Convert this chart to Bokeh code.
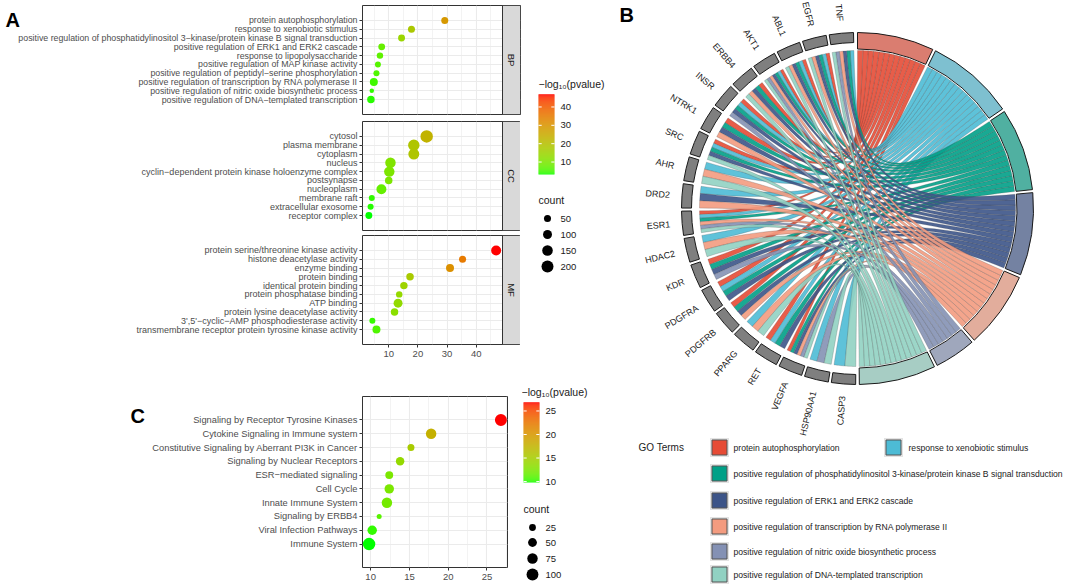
import numpy as np
from bokeh.plotting import figure
from bokeh.models import ColumnDataSource, FactorRange, Range1d, FixedTicker, BoxAnnotation, Label
from bokeh.layouts import row, column
from bokeh.embed import file_html
from bokeh.resources import INLINE
from bokeh.core.properties import value

FONT = "Liberation Sans"
MN = "\u2212"

# ---------------- data: panel A ----------------
bp_terms = ["protein autophosphorylation", "response to xenobiotic stimulus",
            "positive regulation of phosphatidylinositol 3" + MN + "kinase/protein kinase B signal transduction",
            "positive regulation of ERK1 and ERK2 cascade", "response to lipopolysaccharide",
            "positive regulation of MAP kinase activity",
            "positive regulation of peptidyl" + MN + "serine phosphorylation",
            "positive regulation of transcription by RNA polymerase II",
            "positive regulation of nitric oxide biosynthetic process",
            "positive regulation of DNA" + MN + "templated transcription"]
bp_logp = [29.2, 17.8, 14.4, 7.6, 7.0, 6.3, 5.8, 4.9, 4.2, 3.9]
bp_count = [50, 50, 48, 46, 38, 29, 30, 73, 4, 61]

cc_terms = ["cytosol", "plasma membrane", "cytoplasm", "nucleus",
            "cyclin" + MN + "dependent protein kinase holoenzyme complex", "postsynapse",
            "nucleoplasm", "membrane raft", "extracellular exosome", "receptor complex"]
cc_logp = [23.0, 18.6, 18.6, 10.6, 10.2, 10.0, 7.5, 4.2, 3.8, 3.2]
cc_count = [220, 182, 164, 147, 145, 61, 131, 29, 30, 48]

mf_terms = ["protein serine/threonine kinase activity", "histone deacetylase activity",
            "enzyme binding", "protein binding", "identical protein binding",
            "protein phosphatase binding", "ATP binding", "protein lysine deacetylase activity",
            "3',5'" + MN + "cyclic" + MN + "AMP phosphodiesterase activity",
            "transmembrane receptor protein tyrosine kinase activity"]
mf_logp = [46.8, 35.3, 31.0, 17.3, 15.2, 13.6, 13.2, 12.0, 4.4, 5.8]
mf_count = [131, 50, 73, 61, 60, 38, 100, 60, 29, 73]

a_ticks = [10, 20, 30, 40]
a_count_breaks = [50, 100, 150, 200]

# ---------------- data: panel C ----------------
c_terms = ["Signaling by Receptor Tyrosine Kinases", "Cytokine Signaling in Immune system",
           "Constitutive Signaling by Aberrant PI3K in Cancer", "Signaling by Nuclear Receptors",
           "ESR" + MN + "mediated signaling", "Cell Cycle", "Innate Immune System",
           "Signaling by ERBB4", "Viral Infection Pathways", "Immune System"]
c_logp = [26.8, 17.8, 15.2, 13.8, 12.4, 12.4, 12.1, 11.1, 10.2, 9.8]
c_count = [102, 75, 27, 45, 38, 59, 75, 8, 59, 112]
c_ticks = [10, 15, 20, 25]
c_count_breaks = [25, 50, 75, 100]

# ---------------- data: panel B (chord) ----------------
go_terms = ["protein autophosphorylation", "response to xenobiotic stimulus",
            "positive regulation of phosphatidylinositol 3-kinase/protein kinase B signal transduction",
            "positive regulation of ERK1 and ERK2 cascade",
            "positive regulation of transcription by RNA polymerase II",
            "positive regulation of nitric oxide biosynthetic process",
            "positive regulation of DNA-templated transcription"]
go_colors = ["#E64B35", "#4DBBD5", "#00A087", "#3C5488", "#F39B7F", "#8491B4", "#91D1C2"]
genes = ["CASP3", "HSP90AA1", "VEGFA", "RET", "PPARG", "PDGFRB", "PDGFRA", "KDR", "HDAC2",
         "ESR1", "DRD2", "AHR", "SRC", "NTRK1", "INSR", "ERBB4", "AKT1", "ABL1", "EGFR", "TNF"]
gene_term = [
    [0, 1, 0, 0, 0, 0, 1],  # CASP3
    [0, 1, 0, 0, 0, 1, 1],  # HSP90AA1
    [1, 0, 1, 1, 1, 1, 1],  # VEGFA
    [1, 1, 1, 1, 0, 0, 0],  # RET
    [0, 1, 0, 0, 1, 0, 1],  # PPARG
    [1, 0, 1, 1, 1, 0, 0],  # PDGFRB
    [1, 1, 1, 1, 0, 0, 0],  # PDGFRA
    [1, 0, 1, 1, 0, 1, 0],  # KDR
    [0, 1, 0, 0, 1, 0, 1],  # HDAC2
    [1, 1, 1, 0, 1, 1, 1],  # ESR1
    [0, 1, 0, 1, 1, 0, 0],  # DRD2
    [0, 1, 0, 0, 1, 0, 1],  # AHR
    [1, 1, 1, 1, 0, 0, 1],  # SRC
    [1, 0, 1, 1, 1, 0, 0],  # NTRK1
    [1, 1, 1, 1, 0, 1, 0],  # INSR
    [1, 0, 1, 1, 1, 0, 1],  # ERBB4
    [1, 1, 1, 1, 1, 1, 1],  # AKT1
    [1, 1, 1, 1, 1, 0, 1],  # ABL1
    [1, 1, 1, 1, 1, 0, 1],  # EGFR
    [0, 1, 1, 1, 1, 1, 1],  # TNF
]

# ---------------- colour scale (Lab interpolation green -> red) ----------------
_MX = np.array([[0.4124564, 0.3575761, 0.1804375],
                [0.2126729, 0.7151522, 0.0721750],
                [0.0193339, 0.1191920, 0.9503041]])
_WH = np.array([0.95047, 1.0, 1.08883])


def _lin(c):
    c = np.asarray(c, float) / 255.0
    return np.where(c <= 0.04045, c / 12.92, ((c + 0.055) / 1.055) ** 2.4)


def _gam(c):
    c = np.clip(c, 0, 1)
    return np.where(c <= 0.0031308, 12.92 * c, 1.055 * c ** (1 / 2.4) - 0.055)


def rgb2lab(rgb):
    xyz = _MX @ _lin(rgb) / _WH
    d = 6 / 29
    f = np.where(xyz > d ** 3, np.cbrt(xyz), xyz / (3 * d * d) + 4 / 29)
    return np.array([116 * f[1] - 16, 500 * (f[0] - f[1]), 200 * (f[1] - f[2])])


def lab2hex(lab):
    L, a, b = lab
    fy = (L + 16) / 116
    f = np.array([fy + a / 500, fy, fy - b / 200])
    d = 6 / 29
    xyz = np.where(f > d, f ** 3, 3 * d * d * (f - 4 / 29)) * _WH
    rgb = _gam(np.linalg.solve(_MX, xyz))
    r, g, bb = np.round(rgb * 255).astype(int)
    return "#%02x%02x%02x" % (r, g, bb)


LAB_LO = rgb2lab([0, 255, 0])
LAB_HI = rgb2lab([255, 0, 0])


def grad_color(v, vmin, vmax):
    t = min(max((v - vmin) / (vmax - vmin), 0.0), 1.0)
    return lab2hex(LAB_LO + t * (LAB_HI - LAB_LO))


def dot_size(c, cmin, cmax, dmin, dmax):
    t = (c - cmin) / (cmax - cmin)
    return float(np.sqrt(dmin ** 2 + t * (dmax ** 2 - dmin ** 2)))


def expand(vals, mult=0.05):
    lo, hi = min(vals), max(vals)
    pad = (hi - lo) * mult
    return lo - pad, hi + pad


A_ALL = bp_logp + cc_logp + mf_logp
A_CNT = bp_count + cc_count + mf_count
A_VMIN, A_VMAX = min(A_ALL), max(A_ALL)
A_CMIN, A_CMAX = min(A_CNT), max(A_CNT)
A_DMIN, A_DMAX = 4.5, 12.5
C_VMIN, C_VMAX = min(c_logp), max(c_logp)
C_CMIN, C_CMAX = min(c_count), max(c_count)
C_DMIN, C_DMAX = 5.0, 12.5

# ---------------- geometry of the left column (page px) ----------------
A_LEFT = 360
A_DATA_PX = 140
STRIP_PX = 18
A_FH = 109
C_LEFT, C_FW, C_FH = 362, 145, 171
COL_W = A_LEFT + A_DATA_PX + STRIP_PX + 2

A_XR = expand(A_ALL)
strip_units = STRIP_PX * (A_XR[1] - A_XR[0]) / A_DATA_PX
A_SCALE = A_DATA_PX / (A_XR[1] - A_XR[0])
C_XR = expand(c_logp)
C_SCALE = C_FW / (C_XR[1] - C_XR[0])


def style_axes(p, ysize):
    p.background_fill_color = "white"
    p.border_fill_color = "white"
    p.outline_line_color = "#333333"
    p.outline_line_width = 1
    p.ygrid.grid_line_color = "#EBEBEB"
    p.ygrid.grid_line_width = 1.1
    p.xgrid.grid_line_color = "#EBEBEB"
    p.xgrid.grid_line_width = 1.1
    p.xgrid.minor_grid_line_color = "#EBEBEB"
    p.xgrid.minor_grid_line_width = 0.6
    for ax in list(p.yaxis) + list(p.xaxis):
        ax.axis_line_color = None
        ax.major_tick_line_color = "#333333"
        ax.major_tick_out = 3
        ax.major_tick_in = 0
        ax.minor_tick_line_color = None
        ax.major_label_text_font = FONT
        ax.major_label_text_color = "#4D4D4D"
        ax.major_label_standoff = 2
    for ax in p.yaxis:
        ax.major_label_text_font_size = ysize
    for ax in p.xaxis:
        ax.major_label_text_font_size = "9.5px"


def facet(terms, logp, count, strip, top, bottom, with_axis, ysize):
    p = figure(frame_width=A_DATA_PX + STRIP_PX, frame_height=A_FH,
               x_range=Range1d(A_XR[0], A_XR[1] + strip_units),
               y_range=FactorRange(factors=list(reversed(terms)), range_padding=1.2,
                                   range_padding_units="absolute"),
               x_axis_location="below" if with_axis else None,
               toolbar_location=None, output_backend="svg",
               min_border_left=A_LEFT, min_border_right=COL_W - A_LEFT - A_DATA_PX - STRIP_PX,
               min_border_top=top, min_border_bottom=bottom)
    ticker = FixedTicker(ticks=a_ticks, minor_ticks=[5, 15, 25, 35, 45])
    p.xgrid.ticker = ticker
    if with_axis:
        p.xaxis.ticker = ticker
    style_axes(p, ysize)
    src = ColumnDataSource(dict(
        x=logp, y=terms,
        size=[dot_size(c, A_CMIN, A_CMAX, A_DMIN, A_DMAX) for c in count],
        color=[grad_color(v, A_VMIN, A_VMAX) for v in logp]))
    p.scatter("x", "y", size="size", fill_color="color", line_color=None, source=src)
    p.add_layout(BoxAnnotation(left=A_XR[1], fill_color="#D9D9D9", fill_alpha=1.0,
                               line_color="#333333", line_width=1, line_alpha=1.0))
    p.add_layout(Label(x=A_XR[1] + strip_units / 2, y=A_FH / 2, y_units="screen", text=strip,
                       angle=-np.pi / 2, text_align="center", text_baseline="middle",
                       text_font=FONT, text_font_size="9.5px", text_color="#1A1A1A"))
    return p


bp = facet(bp_terms, bp_logp, bp_count, "BP", 5, 3, False, "8.8px")
cc = facet(cc_terms, cc_logp, cc_count, "CC", 4, 3, False, "9px")
mf = facet(mf_terms, mf_logp, mf_count, "MF", 2, 20, True, "9px")
bp.add_layout(Label(x=A_XR[0] + (3 - A_LEFT) / A_SCALE, y=len(bp_terms) + 0.6 + 2 * 11.2 / A_FH,
                    text="A", text_font=FONT, text_font_size="20px", text_font_style="bold",
                    text_baseline="top", text_align="left", text_color="black"), "left")

# ---------------- panel C ----------------
cfig = figure(frame_width=C_FW, frame_height=C_FH, x_range=Range1d(*C_XR),
              y_range=FactorRange(factors=list(reversed(c_terms)), range_padding=1.2,
                                  range_padding_units="absolute"),
              toolbar_location=None, output_backend="svg",
              min_border_left=C_LEFT, min_border_right=COL_W - C_LEFT - C_FW,
              min_border_top=32, min_border_bottom=17)
cticker = FixedTicker(ticks=c_ticks, minor_ticks=[7.5, 12.5, 17.5, 22.5, 27.5])
cfig.xaxis.ticker = cticker
cfig.xgrid.ticker = cticker
style_axes(cfig, "9.3px")
csrc = ColumnDataSource(dict(
    x=c_logp, y=c_terms,
    size=[dot_size(c, C_CMIN, C_CMAX, C_DMIN, C_DMAX) for c in c_count],
    color=[grad_color(v, C_VMIN, C_VMAX) for v in c_logp]))
cfig.scatter("x", "y", size="size", fill_color="color", line_color=None, source=csrc)
cfig.add_layout(Label(x=C_XR[0] + (130 - C_LEFT) / C_SCALE, y=len(c_terms) + 0.6,
                      text="C", text_font=FONT, text_font_size="20px", text_font_style="bold",
                      text_baseline="top", text_align="left", text_color="black"), "left")

TOTAL_H = 584

# ---------------- legend column (page x 520..636) ----------------
LX0, LW = COL_W, 116
leg = figure(width=LW, height=TOTAL_H, x_range=Range1d(0, LW), y_range=Range1d(0, TOTAL_H),
             toolbar_location=None, output_backend="svg", min_border=0,
             x_axis_location=None, y_axis_location=None, outline_line_color=None)
leg.grid.visible = False
leg.background_fill_color = "white"
leg.border_fill_color = "white"


def LY(page_y):
    return TOTAL_H - page_y


def txt(fig, x, y, s, size, align="left", base="middle", style="normal", color="#1A1A1A"):
    fig.text(x=[x], y=[y], text=[s], text_font=value(FONT), text_font_size=size,
             text_align=align, text_baseline=base, text_font_style=style, text_color=color)


def colorbar(fig, vmin, vmax, x0, x1, ptop, pbot, ticks, lab_x, title_xy):
    n = 80
    edges = np.linspace(vmin, vmax, n + 1)
    yb, yt = LY(pbot), LY(ptop)
    ys = yb + (edges - vmin) / (vmax - vmin) * (yt - yb)
    mids = (edges[:-1] + edges[1:]) / 2
    fig.quad(left=x0, right=x1, bottom=ys[:-1], top=ys[1:] + 0.3,
             fill_color=[grad_color(v, vmin, vmax) for v in mids], line_color=None)
    ty = [yb + (t - vmin) / (vmax - vmin) * (yt - yb) for t in ticks]
    w = (x1 - x0) / 5
    fig.segment(x0=[x0] * len(ty), y0=ty, x1=[x0 + w] * len(ty), y1=ty, line_color="white", line_width=1)
    fig.segment(x0=[x1 - w] * len(ty), y0=ty, x1=[x1] * len(ty), y1=ty, line_color="white", line_width=1)
    fig.text(x=[lab_x] * len(ty), y=ty, text=[str(t) for t in ticks], text_font=value(FONT),
             text_font_size="9.5px", text_align="left", text_baseline="middle", text_color="#1A1A1A")
    txt(fig, title_xy[0], title_xy[1], MN + "log\u2081\u2080(pvalue)", "10.5px")


def sizelegend(fig, breaks, cmin, cmax, dmin, dmax, cx, pys, lab_x, title_xy):
    ys = [LY(v) for v in pys]
    fig.scatter(x=[cx] * len(breaks), y=ys, size=[dot_size(b, cmin, cmax, dmin, dmax) for b in breaks],
                fill_color="black", line_color=None)
    fig.text(x=[lab_x] * len(breaks), y=ys, text=[str(b) for b in breaks], text_font=value(FONT),
             text_font_size="9.5px", text_align="left", text_baseline="middle", text_color="#1A1A1A")
    txt(fig, title_xy[0], title_xy[1], "count", "10.5px")


colorbar(leg, A_VMIN, A_VMAX, 537 - LX0, 553 - LX0, 94, 174, a_ticks, 559 - LX0, (537 - LX0, LY(83)))
sizelegend(leg, a_count_breaks, A_CMIN, A_CMAX, A_DMIN, A_DMAX, 546 - LX0, [218, 234, 250, 266],
           559 - LX0, (537 - LX0, LY(199)))
colorbar(leg, C_VMIN, C_VMAX, 522 - LX0, 538 - LX0, 402, 482, c_ticks, 544 - LX0, (520 - LX0, LY(391)))
sizelegend(leg, c_count_breaks, C_CMIN, C_CMAX, C_DMIN, C_DMAX, 531 - LX0, [527, 542, 558, 574],
           544 - LX0, (522 - LX0, LY(508)))
txt(leg, 618 - LX0, LY(3), "B", "20px", base="top", style="bold", color="black")

# ---------------- panel B: chord ----------------
BX0 = LX0 + LW
BW = 1064 - BX0
ch = figure(width=BW, height=TOTAL_H, x_range=Range1d(0, BW), y_range=Range1d(0, TOTAL_H),
            toolbar_location=None, output_backend="svg", min_border=0,
            x_axis_location=None, y_axis_location=None, outline_line_color=None)
ch.grid.visible = False
ch.background_fill_color = "white"
ch.border_fill_color = "white"

CX, CY = 856 - BX0, LY(208)
R_OUT, R_GIN, R_TIN, R_RIB, R_LAB = 176.0, 166.0, 159.5, 158.0, 188.0
GAP = 1.0
T0, T1 = 0.0, 179.4
G0, G1 = 180.6, 358.7
K_CTRL = 0.2

links = np.array(gene_term)
n_term = links.sum(axis=0)
nT, nG = len(go_terms), len(genes)
u = (T1 - T0 - GAP * (nT - 1)) / n_term.sum()
term_lo = []
ph = T0
for n in n_term:
    term_lo.append(ph)
    ph += n * u + GAP
gw = (G1 - G0 - GAP * (nG - 1)) / nG
gene_lo = [G0 + i * (gw + GAP) for i in range(nG)]

gene_slot, term_slot = {}, {}
for g in range(nG):
    ts = sorted([t for t in range(nT) if links[g, t]], reverse=True)
    w = gw / len(ts)
    for k, t in enumerate(ts):
        gene_slot[(g, t)] = (gene_lo[g] + k * w, gene_lo[g] + (k + 1) * w)
for t in range(nT):
    gs = sorted([g for g in range(nG) if links[g, t]], reverse=True)
    for k, g in enumerate(gs):
        term_slot[(g, t)] = (term_lo[t] + k * u, term_lo[t] + (k + 1) * u)


def polar(phi, r):
    th = np.radians(90 - np.asarray(phi, float))
    return CX + r * np.cos(th), CY + r * np.sin(th)


def bez(pa, pb, r, n=44):
    x0, y0 = polar(pa, r)
    x3, y3 = polar(pb, r)
    x1, y1 = CX + K_CTRL * (x0 - CX), CY + K_CTRL * (y0 - CY)
    x2, y2 = CX + K_CTRL * (x3 - CX), CY + K_CTRL * (y3 - CY)
    t = np.linspace(0, 1, n)
    a, b, c, d = (1 - t) ** 3, 3 * (1 - t) ** 2 * t, 3 * (1 - t) * t ** 2, t ** 3
    return a * x0 + b * x1 + c * x2 + d * x3, a * y0 + b * y1 + c * y2 + d * y3


rx, ry, rc = [], [], []
for t in range(nT):
    for g in range(nG):
        if not links[g, t]:
            continue
        a1, a2 = gene_slot[(g, t)]
        b1, b2 = term_slot[(g, t)]
        ax_, ay_ = polar(np.linspace(a1, a2, 8), R_RIB)
        c1x, c1y = bez(a2, b1, R_RIB)
        bx_, by_ = polar(np.linspace(b1, b2, 8), R_RIB)
        c2x, c2y = bez(b2, a1, R_RIB)
        rx.append(np.concatenate([ax_, c1x, bx_, c2x]).tolist())
        ry.append(np.concatenate([ay_, c1y, by_, c2y]).tolist())
        rc.append(go_colors[t])
ch.patches(rx, ry, fill_color=rc, fill_alpha=0.9, line_color="#444444", line_alpha=0.45, line_width=0.5)


def blend(hx, base=(200, 200, 200), a=0.6):
    r, g, b = int(hx[1:3], 16), int(hx[3:5], 16), int(hx[5:7], 16)
    return "#%02x%02x%02x" % tuple(int(round(a * c + (1 - a) * bc)) for c, bc in zip((r, g, b), base))


term_hi = [term_lo[t] + n_term[t] * u for t in range(nT)]
ch.annular_wedge(x=CX, y=CY, inner_radius=R_TIN, outer_radius=R_OUT,
                 start_angle=[np.radians(90 - h) for h in term_hi],
                 end_angle=[np.radians(90 - l) for l in term_lo], direction="anticlock",
                 fill_color=[blend(c) for c in go_colors], line_color="#1A1A1A", line_width=1)
gene_hi = [l + gw for l in gene_lo]
ch.annular_wedge(x=CX, y=CY, inner_radius=R_GIN, outer_radius=R_OUT,
                 start_angle=[np.radians(90 - h) for h in gene_hi],
                 end_angle=[np.radians(90 - l) for l in gene_lo], direction="anticlock",
                 fill_color="#7F7F7F", line_color="#1A1A1A", line_width=1)

mid = np.array(gene_lo) + gw / 2
lx, ly = polar(mid, R_LAB)
ch.text(x=lx.tolist(), y=ly.tolist(), text=genes,
        angle=(np.radians(90 - mid) + np.pi).tolist(), text_font=value(FONT), text_font_size="9px",
        text_align="right", text_baseline="middle", text_color="#1A1A1A")

# legend of GO terms
rows_py = [447, 473, 500, 526, 551, 574]
slots = [(0, 0), (1, 0), (0, 1), (0, 2), (0, 3), (0, 4), (0, 5)]
sw_x = [718 - BX0, 892 - BX0]
lab_x = [732 - BX0, 907 - BX0]
sx = [sw_x[c] for c, r in slots]
sy = [LY(rows_py[r]) for c, r in slots]
ch.rect(x=sx, y=sy, width=19, height=19, fill_color="#E3E3E3", line_color=None)
ch.rect(x=sx, y=sy, width=15, height=15, fill_color=go_colors, line_color="#555555", line_width=1)
ch.text(x=[lab_x[c] for c, r in slots], y=sy, text=go_terms, text_font=value(FONT),
        text_font_size="8.6px", text_align="left", text_baseline="middle", text_color="#222222")
txt(ch, 637 - BX0, LY(447), "GO Terms", "10px", color="#222222")

page = row(column(bp, cc, mf, cfig), leg, ch)
open("out.html", "w").write(file_html(page, INLINE, title="GO enrichment"))
